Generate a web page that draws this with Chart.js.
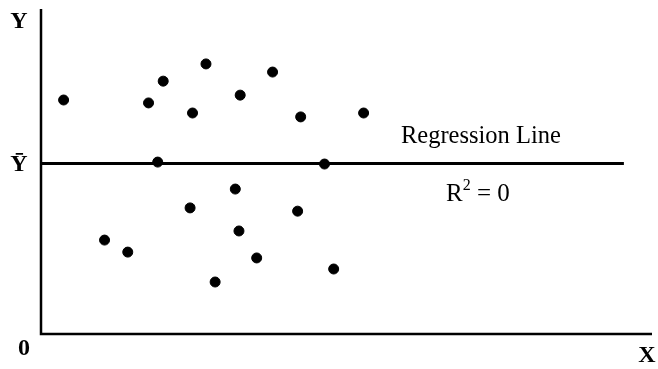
<!DOCTYPE html>
<html>
<head>
<meta charset="utf-8">
<script src="https://cdn.jsdelivr.net/npm/chart.js@4"></script>
<style>
  html, body { margin: 0; padding: 0; background: #fff; }
  #wrap { width: 658px; height: 369px; }
</style>
</head>
<body>
<div id="wrap"><canvas id="chart-scatter"></canvas></div>
<script>
// observations (x, y) in plot units, 0..100 on both axes
const pointsX = [3.7, 17.6, 20.0, 27.0, 24.8, 32.6, 37.9, 42.5, 52.8, 19.1,
                 46.4, 31.8, 24.4, 42.0, 10.4, 14.2, 32.4, 35.3, 47.9, 28.5];
const pointsY = [72.0, 71.1, 77.8, 83.1, 68.0, 73.5, 80.6, 66.8, 68.0, 52.9,
                 52.3, 44.6, 38.8, 37.8, 28.9, 25.2, 31.7, 23.4, 20.0, 16.0];

// fitted line is flat at the mean of Y (R^2 = 0)
const yBar = 52.5;
const lineX = [0, 95.4];

const axisLabels = { y: "Y", yBar: "Ȳ", origin: "0", x: "X" };
const lineLabel = "Regression Line";

const FONT = '"Liberation Serif", "DejaVu Serif", serif';
const INK = "#000";

const annotationsPlugin = {
  id: "figureLabels",
  beforeDatasetsDraw(chart) {
    const { ctx, scales } = chart;
    const x = scales.x, y = scales.y;
    const x0 = x.getPixelForValue(0), x1 = x.getPixelForValue(100);
    const y0 = y.getPixelForValue(0), y1 = y.getPixelForValue(100);

    // axes
    ctx.save();
    ctx.strokeStyle = INK;
    ctx.lineWidth = 2.5;
    ctx.beginPath();
    ctx.moveTo(x0, y1);
    ctx.lineTo(x0, y0);
    ctx.lineTo(x1, y0);
    ctx.stroke();
    ctx.restore();
  },
  afterDatasetsDraw(chart) {
    const { ctx, scales } = chart;
    const x = scales.x, y = scales.y;
    const x0 = x.getPixelForValue(0), x1 = x.getPixelForValue(100);
    const y0 = y.getPixelForValue(0), y1 = y.getPixelForValue(100);
    const yb = y.getPixelForValue(yBar);

    ctx.save();
    ctx.fillStyle = INK;
    ctx.textAlign = "center";
    ctx.textBaseline = "middle";
    ctx.font = "bold 24px " + FONT;

    ctx.fillText(axisLabels.y, x0 - 22, y1 + 13);
    ctx.fillText(axisLabels.yBar, x0 - 22, yb + 1);
    ctx.fillText(axisLabels.origin, x0 - 17, y0 + 15);
    ctx.fillText(axisLabels.x, x1 - 5, y0 + 22);

    // line caption
    ctx.font = "24.5px " + FONT;
    ctx.fillText(lineLabel, x.getPixelForValue(72.0), y.getPixelForValue(60.6));

    // R^2 = 0 with a raised 2
    const cx = x.getPixelForValue(71.5), cy = y.getPixelForValue(42.8);
    ctx.textAlign = "left";
    ctx.font = "25px " + FONT;
    const wR = ctx.measureText("R").width;
    const rest = " = 0";
    const wRest = ctx.measureText(rest).width;
    ctx.font = "16px " + FONT;
    const w2 = ctx.measureText("2").width;
    const start = cx - (wR + w2 + wRest) / 2;
    ctx.font = "25px " + FONT;
    ctx.fillText("R", start, cy);
    ctx.fillText(rest, start + wR + w2, cy);
    ctx.font = "16px " + FONT;
    ctx.fillText("2", start + wR, cy - 9);
    ctx.restore();
  },
};

new Chart(document.getElementById("chart-scatter"), {
  type: "scatter",
  data: {
    datasets: [
      {
        label: "Observations",
        data: pointsX.map((v, i) => ({ x: v, y: pointsY[i] })),
        backgroundColor: INK,
        borderColor: INK,
        pointRadius: 5,
        pointHoverRadius: 5,
      },
      {
        type: "line",
        label: lineLabel,
        data: lineX.map((v) => ({ x: v, y: yBar })),
        borderColor: INK,
        borderWidth: 3,
        pointRadius: 0,
        fill: false,
      },
    ],
  },
  plugins: [annotationsPlugin],
  options: {
    responsive: true,
    maintainAspectRatio: false,
    animation: false,
    layout: { padding: { left: 41, right: 3, top: 9, bottom: 35 } },
    scales: {
      x: { type: "linear", min: 0, max: 100, display: false },
      y: { type: "linear", min: 0, max: 100, display: false },
    },
    plugins: {
      legend: { display: false },
      tooltip: { enabled: false },
    },
  },
});
</script>
</body>
</html>
